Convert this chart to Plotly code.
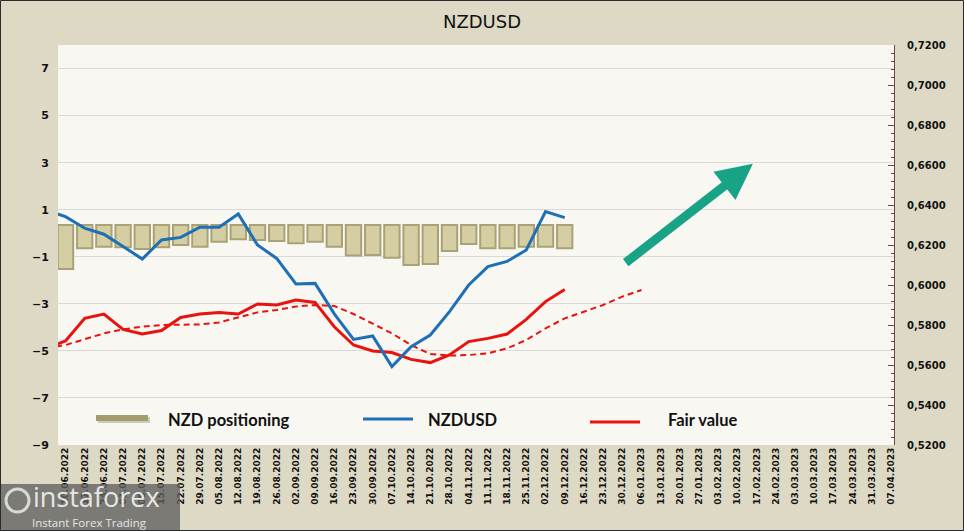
import plotly.graph_objects as go

# ---------------- data ----------------
dates = ["03.06.2022", "10.06.2022", "17.06.2022", "24.06.2022", "01.07.2022", "08.07.2022",
         "15.07.2022", "22.07.2022", "29.07.2022", "05.08.2022", "12.08.2022", "19.08.2022",
         "26.08.2022", "02.09.2022", "09.09.2022", "16.09.2022", "23.09.2022", "30.09.2022",
         "07.10.2022", "14.10.2022", "21.10.2022", "28.10.2022", "04.11.2022", "11.11.2022",
         "18.11.2022", "25.11.2022", "02.12.2022", "09.12.2022", "16.12.2022", "23.12.2022",
         "30.12.2022", "06.01.2023", "13.01.2023", "20.01.2023", "27.01.2023", "03.02.2023",
         "10.02.2023", "17.02.2023", "24.02.2023", "03.03.2023", "10.03.2023", "17.03.2023",
         "24.03.2023", "31.03.2023", "07.04.2023"]

# NZD positioning (left axis), 10.06.2022 .. 09.12.2022
positioning = [-1.87, -0.99, -0.92, -0.95, -1.02, -0.95, -0.85, -0.92, -0.71, -0.61,
               -0.64, -0.68, -0.78, -0.71, -0.92, -1.30, -1.27, -1.39, -1.70, -1.66,
               -1.10, -0.81, -0.99, -0.99, -0.92, -0.92, -0.99]
positioning_base = 0.35

# NZDUSD (right axis), 03.06.2022 .. 09.12.2022
nzdusd = [0.6374, 0.6342, 0.6284, 0.6254, 0.6192, 0.6130, 0.6225, 0.6238, 0.6289, 0.6289,
          0.6355, 0.6200, 0.6133, 0.6005, 0.6008, 0.5856, 0.5728, 0.5745, 0.5592, 0.5692,
          0.5750, 0.5867, 0.6000, 0.6092, 0.6118, 0.6175, 0.6367, 0.6337]

# Fair value (right axis), 03.06.2022 .. 09.12.2022
fair_value = [0.5685, 0.5720, 0.5833, 0.5855, 0.5778, 0.5755, 0.5772, 0.5838, 0.5855, 0.5863,
              0.5855, 0.5905, 0.5900, 0.5925, 0.5913, 0.5791, 0.5700, 0.5670, 0.5662, 0.5628,
              0.5612, 0.5650, 0.5717, 0.5733, 0.5755, 0.5828, 0.5917, 0.5978]

# Fair value trend (dashed), 03.06.2022 .. 06.01.2023
fair_trend = [0.5685, 0.5700, 0.5729, 0.5758, 0.5778, 0.5792, 0.5800, 0.5803, 0.5803, 0.5813,
              0.5837, 0.5863, 0.5875, 0.5892, 0.5900, 0.5895, 0.5855, 0.5808, 0.5758, 0.5700,
              0.5655, 0.5647, 0.5650, 0.5658, 0.5683, 0.5725, 0.5783, 0.5833, 0.5867, 0.5900,
              0.5942, 0.5975]

left_ticks = [-9, -7, -5, -3, -1, 1, 3, 5, 7]
right_ticks = [0.52, 0.54, 0.56, 0.58, 0.60, 0.62, 0.64, 0.66, 0.68, 0.70, 0.72]
right_ticktext = ["0,5200", "0,5400", "0,5600", "0,5800", "0,6000", "0,6200", "0,6400",
                  "0,6600", "0,6800", "0,7000", "0,7200"]

# ---------------- layout helpers (pixel -> paper) ----------------
W, H = 964, 531
L, R, T, B = 58, 894, 45, 445


def px(x):
    return (x - L) / (R - L)


def py(y):
    return (B - y) / (B - T)


BLUE = "#1f6fb6"
RED = "#e8120f"
OLIVE_FACE = "#d4cea2"
OLIVE_EDGE = "#a8a276"

fig = go.Figure()

fig.add_trace(go.Bar(
    x=dates[1:1 + len(positioning)], y=positioning, base=positioning_base,
    marker=dict(color=OLIVE_FACE, line=dict(color=OLIVE_EDGE, width=2)),
    width=0.8, name="NZD positioning", yaxis="y", showlegend=False))

fig.add_trace(go.Scatter(
    x=dates[:len(fair_trend)], y=fair_trend, mode="lines",
    line=dict(color=RED, width=2, dash="6px,4px"), yaxis="y2", showlegend=False))

fig.add_trace(go.Scatter(
    x=dates[:len(fair_value)], y=fair_value, mode="lines",
    line=dict(color=RED, width=3), yaxis="y2", name="Fair value", showlegend=False))

fig.add_trace(go.Scatter(
    x=dates[:len(nzdusd)], y=nzdusd, mode="lines",
    line=dict(color=BLUE, width=3), yaxis="y2", name="NZDUSD", showlegend=False))

shapes = []
annotations = []

# legend (manual)
shapes.append(dict(type="rect", xref="paper", yref="paper",
                   x0=px(98), x1=px(150), y0=py(423), y1=py(417),
                   fillcolor="rgba(120,120,100,0.35)", line=dict(width=0), layer="above"))
shapes.append(dict(type="rect", xref="paper", yref="paper",
                   x0=px(96), x1=px(148), y0=py(421), y1=py(415),
                   fillcolor="#a39d6b", line=dict(width=0), layer="above"))
shapes.append(dict(type="line", xref="paper", yref="paper",
                   x0=px(363), x1=px(413), y0=py(419), y1=py(419),
                   line=dict(color=BLUE, width=3), layer="above"))
shapes.append(dict(type="line", xref="paper", yref="paper",
                   x0=px(590), x1=px(640), y0=py(422), y1=py(422),
                   line=dict(color=RED, width=3), layer="above"))
for txt, x in [("NZD positioning", 166), ("NZDUSD", 426), ("Fair value", 666)]:
    annotations.append(dict(text=txt, xref="paper", yref="paper", x=px(x), y=py(420),
                            xanchor="left", yanchor="middle", showarrow=False,
                            font=dict(family="Lato", size=16.5, color="#111111", weight="bold")))

# green arrow
annotations.append(dict(x=36.8, y=2.95, ax=30.1, ay=-1.3, xref="x", yref="y",
                        axref="x", ayref="y", text="", showarrow=True,
                        arrowhead=2, arrowsize=0.8, arrowwidth=9, arrowcolor="#18a386"))

# watermark
shapes.append(dict(type="rect", xref="paper", yref="paper",
                   x0=px(0), x1=px(180), y0=py(531), y1=py(484),
                   fillcolor="rgba(95,95,95,0.78)", line=dict(width=0), layer="above"))
shapes.append(dict(type="circle", xref="paper", yref="paper",
                   x0=px(6), x1=px(29), y0=py(512), y1=py(489),
                   fillcolor="rgba(0,0,0,0)", line=dict(color="#d8d8d8", width=3), layer="above"))
annotations.append(dict(text="instaforex", xref="paper", yref="paper", x=px(31), y=py(497),
                        xanchor="left", yanchor="middle", showarrow=False,
                        font=dict(family="Open Sans", size=27, color="#e6e6e6")))
annotations.append(dict(text="Instant Forex Trading", xref="paper", yref="paper", x=px(30), y=py(522.5),
                        xanchor="left", yanchor="middle", showarrow=False,
                        font=dict(family="Open Sans", size=11.5, color="#e6e6e6")))

# outer border
shapes.append(dict(type="rect", xref="paper", yref="paper",
                   x0=px(0.5), x1=px(963.5), y0=py(530.5), y1=py(0.5),
                   line=dict(color="#2a2a2a", width=1), fillcolor="rgba(0,0,0,0)", layer="above"))

fig.update_layout(
    width=W, height=H,
    margin=dict(l=L, r=W - R, t=T, b=H - B, pad=0, autoexpand=False),
    paper_bgcolor="#ddd9c4",
    plot_bgcolor="#f8f7f2",
    title=dict(text="NZDUSD", x=0.5, xanchor="center", y=1 - 22 / H, yanchor="middle",
               yref="container", font=dict(family="DejaVu Sans", size=18, color="#111111")),
    barmode="overlay",
    showlegend=False,
    shapes=shapes,
    annotations=annotations,
    xaxis=dict(type="category", categoryorder="array", categoryarray=dates, automargin=False,
               range=[0.61, 44.15], tickmode="array", tickvals=dates, ticktext=dates,
               tickangle=-90, tickfont=dict(family="DejaVu Sans", size=9, color="#111111", weight="bold"),
               showgrid=False, showline=False, ticks="", zeroline=False),
    yaxis=dict(range=[-9, 8], tickvals=left_ticks, showgrid=True, gridcolor="#d9d9d9",
               automargin=False,
               gridwidth=1, zeroline=False, showline=False, ticks="outside", ticklen=6,
               tickcolor="rgba(0,0,0,0)",
               tickfont=dict(family="DejaVu Sans", size=11, color="#111111", weight="bold")),
    yaxis2=dict(range=[0.52, 0.72], overlaying="y", side="right", tickvals=right_ticks,
                automargin=False,
                ticktext=right_ticktext, showgrid=False, zeroline=False, showline=True,
                linecolor="#6b4a3a", linewidth=1, ticks="inside", ticklen=6, tickcolor="#6b4a3a",
                minor=dict(dtick=0.004, ticks="inside", ticklen=3, tickcolor="#6b4a3a"),
                ticklabelstandoff=10,
                tickfont=dict(family="DejaVu Sans", size=10, color="#111111", weight="bold")),
)

fig.write_html("out.html", config={"displayModeBar": False},
               post_script="document.body.style.margin='0';document.body.style.overflow='hidden';")
